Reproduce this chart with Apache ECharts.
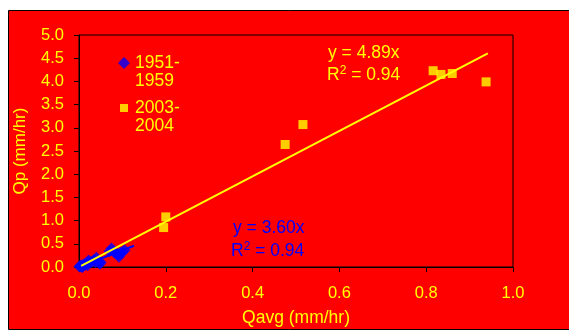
<!DOCTYPE html>
<html><head><meta charset="utf-8">
<script src="https://cdn.jsdelivr.net/npm/echarts@6/dist/echarts.min.js"></script>
<style>html,body{margin:0;padding:0;background:#fff}#c{width:569px;height:331px}</style>
</head><body><div id="c"></div>
<script>
const seriesNames = ['1951-1959', '2003-2004'];
const blueData = [[0.001,0.01],[0.003,0.02],[0.005,0.01],[0.006,0.04],[0.008,0.0],[0.01,0.03],[0.012,0.06],[0.015,0.05],[0.018,0.08],[0.02,0.04],[0.025,0.1],[0.022,0.14],[0.03,0.12],[0.035,0.15],[0.038,0.1],[0.04,0.2],[0.045,0.12],[0.05,0.1],[0.048,0.07],[0.07,0.34],[0.075,0.4],[0.08,0.33],[0.085,0.3],[0.09,0.27],[0.095,0.3],[0.1,0.32],[0.092,0.22],[0.105,0.36]];
const yellowData = [[0.195,0.85],[0.2,1.08],[0.475,2.64],[0.516,3.07],[0.816,4.23],[0.834,4.15],[0.86,4.17],[0.938,3.99]];
const blueTrend = [[0.0,0.0],[0.127,0.457]];
const yellowTrend = [[0.005,0.024],[0.942,4.606]];
const xTicks = [0, 0.2, 0.4, 0.6, 0.8, 1.0];
const yTicks = [0,0.5,1,1.5,2,2.5,3,3.5,4,4.5,5];
const FONT = 'Liberation Sans, Arial, sans-serif';
const chart = echarts.init(document.getElementById('c'));
const sup = c => ({s: {fontSize: 12, verticalAlign: 'top', padding: [0,0,9,0], fill: c}});
chart.setOption({
  backgroundColor: 'transparent',
  animation: false,
  textStyle: {fontFamily: FONT},
  grid: {left: 79, right: 56, top: 35, bottom: 64, show: true, borderColor: '#000', borderWidth: 1, backgroundColor: 'transparent', outerBoundsMode: 'none', containLabel: false},
  graphic: [
    {type: 'rect', z: -10, shape: {x: 8.5, y: 10.5, width: 600, height: 319}, style: {fill: '#ff0000', stroke: '#000', lineWidth: 1}},
    {type: 'text', left: 328, top: 44, style: {text: 'y = 4.89x', fill: '#ffff00', font: '17.5px ' + FONT}},
    {type: 'text', left: 327, top: 65, style: {text: 'R{s|2} = 0.94', fill: '#ffff00', font: '17.5px ' + FONT, rich: sup('#ffff00')}},
    {type: 'text', left: 233, top: 219, style: {text: 'y = 3.60x', fill: '#0000ff', font: '17.5px ' + FONT}},
    {type: 'text', left: 231, top: 241, style: {text: 'R{s|2} = 0.94', fill: '#0000ff', font: '17.5px ' + FONT, rich: sup('#0000ff')}}
  ],
  legend: {
    data: [
      {name: seriesNames[0], icon: 'diamond'},
      {name: seriesNames[1], icon: 'path://M0 0L0.01 0L0 0.01Z M12 12L11.99 12L12 11.99Z M2 2h8v8h-8z'}
    ],
    orient: 'vertical', left: 118, top: 36, itemGap: -9, padding: 0,
    itemWidth: 12, itemHeight: 12,
    formatter: n => '\n' + n.replace('-', '-\n'),
    textStyle: {color: '#ffff00', fontSize: 17.5, lineHeight: 18, fontFamily: FONT}
  },
  xAxis: {
    type: 'value', min: 0, max: 1, interval: 0.2,
    name: 'Qavg (mm/hr)', nameLocation: 'middle', nameGap: 42,
    nameTextStyle: {color: '#ffff00', fontSize: 17.5},
    axisLine: {lineStyle: {color: '#000'}}, axisTick: {show: true, length: 5, lineStyle: {color: '#000'}},
    splitLine: {show: false},
    axisLabel: {color: '#ffff00', fontSize: 16.5, margin: 18, formatter: v => v.toFixed(1)}
  },
  yAxis: {
    type: 'value', min: 0, max: 5, interval: 0.5,
    name: 'Qp (mm/hr)', nameLocation: 'middle', nameGap: 50,
    nameTextStyle: {color: '#ffff00', fontSize: 17},
    axisLine: {show: true, lineStyle: {color: '#000'}}, axisTick: {show: true, length: 5, lineStyle: {color: '#000'}},
    splitLine: {show: false},
    axisLabel: {color: '#ffff00', fontSize: 16.5, margin: 15, formatter: v => v.toFixed(1)}
  },
  series: [
    {name: seriesNames[0], type: 'scatter', symbol: 'diamond', symbolSize: 12, itemStyle: {color: '#0000ff'}, data: blueData, z: 3},
    {name: seriesNames[1], type: 'scatter', symbol: 'rect', symbolSize: 9, itemStyle: {color: '#ffff00'}, data: yellowData, z: 3},
    {name: 'blueTrend', type: 'line', data: blueTrend, symbol: 'none', lineStyle: {color: '#0000ff', width: 2}, z: 4},
    {name: 'yellowTrend', type: 'line', data: yellowTrend, symbol: 'none', lineStyle: {color: '#ffff00', width: 2}, z: 5}
  ]
});
</script></body></html>
